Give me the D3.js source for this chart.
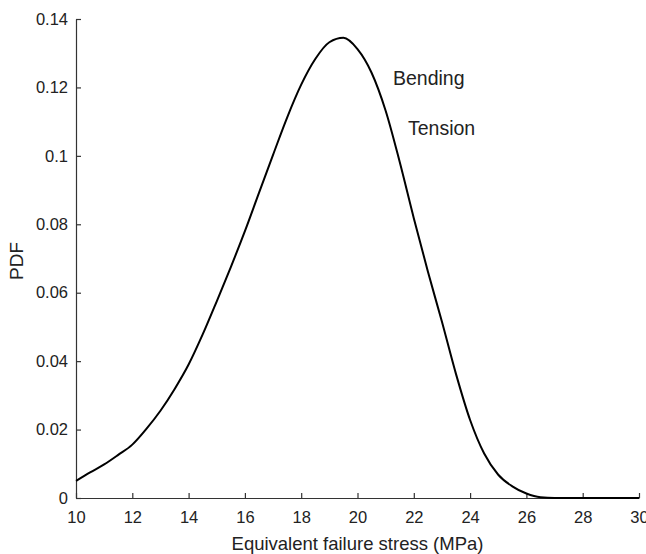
<!DOCTYPE html>
<html>
<head>
<meta charset="utf-8">
<script src="https://cdn.jsdelivr.net/npm/d3@7"></script>
<style>
  html, body { margin: 0; padding: 0; background: #fff; }
  svg { display: block; }
  text { font-family: "Liberation Sans", Arial, Helvetica, sans-serif; fill: #222; }
</style>
</head>
<body>
<script>
// ---- data ----
const stress = [10, 10.5, 11, 11.5, 12, 12.5, 13, 13.5, 14, 14.5, 15, 15.5, 16, 16.5, 17, 17.5, 18, 18.5, 19, 19.5, 20, 20.5, 21, 21.5, 22, 22.5, 23, 23.5, 24, 24.5, 25, 25.5, 26, 26.5, 27, 28, 29, 30];
const pdf    = [0.005, 0.0075, 0.0098, 0.0126, 0.0156, 0.0202, 0.0255, 0.0318, 0.039, 0.0478, 0.0575, 0.0675, 0.078, 0.0892, 0.1003, 0.1112, 0.1208, 0.1283, 0.1332, 0.1345, 0.1312, 0.1243, 0.1132, 0.0982, 0.0818, 0.0662, 0.0515, 0.0362, 0.0228, 0.013, 0.0068, 0.0034, 0.0013, 0.0002, 0, 0, 0, 0];
const xTicks = [10, 12, 14, 16, 18, 20, 22, 24, 26, 28, 30];
const yTicks = [0, 0.02, 0.04, 0.06, 0.08, 0.1, 0.12, 0.14];
const yTickLabels = ["0", "0.02", "0.04", "0.06", "0.08", "0.1", "0.12", "0.14"];
const annotations = ["Bending", "Tension"];
const xLabel = "Equivalent failure stress (MPa)";
const yLabel = "PDF";

// ---- layout ----
const W = 646, H = 554;
const svg = d3.select("body").append("svg").attr("width", W).attr("height", H);

const x = d3.scaleLinear().domain([10, 30]).range([76, 639]);
const y = d3.scaleLinear().domain([0, 0.14]).range([498, 19]);

const xAxis = d3.axisBottom(x).tickValues(xTicks).tickFormat(d3.format("d"))
  .tickSizeInner(-5).tickSizeOuter(0).tickPadding(13);
const yAxis = d3.axisLeft(y).tickValues(yTicks).tickFormat((d, i) => yTickLabels[i])
  .tickSizeInner(-5).tickSizeOuter(0).tickPadding(8);

const gx = svg.append("g").attr("transform", `translate(0,${y(0)})`).call(xAxis);
const gy = svg.append("g").attr("transform", `translate(${x(10)},0)`).call(yAxis);

[gx, gy].forEach(g => {
  g.select(".domain").attr("stroke", "#333").attr("stroke-width", 1.2);
  g.selectAll(".tick line").attr("stroke", "#333").attr("stroke-width", 1.2);
  g.selectAll(".tick text").attr("fill", "#222").style("font-size", "16.5px")
    .style("font-family", "'Liberation Sans', Arial, sans-serif");
});

// ---- curve ----
const line = d3.line()
  .x((d, i) => x(stress[i]))
  .y(d => y(d))
  .curve(d3.curveMonotoneX);

svg.append("path")
  .datum(pdf)
  .attr("fill", "none")
  .attr("stroke", "#000")
  .attr("stroke-width", 2)
  .attr("stroke-linejoin", "round")
  .attr("d", line);

// ---- annotations ----
svg.append("text").attr("x", 393).attr("y", 85).style("font-size", "19.5px").text(annotations[0]);
svg.append("text").attr("x", 408).attr("y", 135).style("font-size", "19.5px").text(annotations[1]);

// ---- axis labels ----
svg.append("text").attr("x", (x(10) + x(30)) / 2).attr("y", 550)
  .attr("text-anchor", "middle").style("font-size", "18.5px").text(xLabel);
svg.append("text").attr("transform", `translate(23,${261}) rotate(-90)`)
  .attr("text-anchor", "middle").style("font-size", "19px").text(yLabel);
</script>
</body>
</html>
